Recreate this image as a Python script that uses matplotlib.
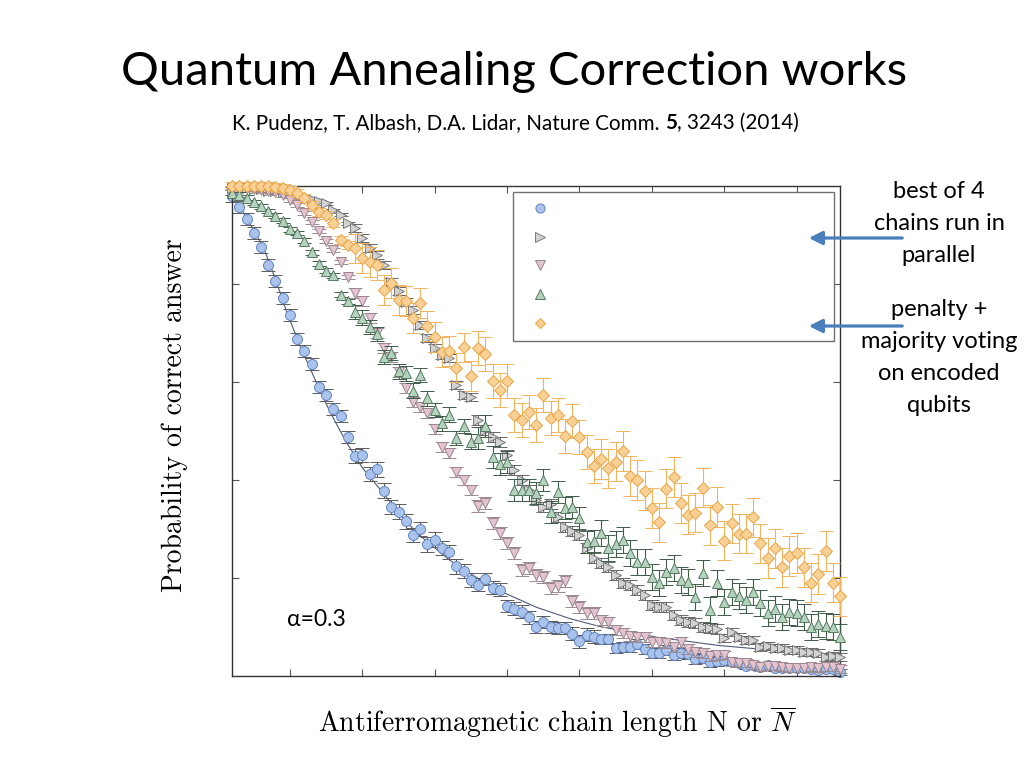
import numpy as np
import matplotlib
matplotlib.use("Agg")
import matplotlib.pyplot as plt
from matplotlib.lines import Line2D
from matplotlib.patches import FancyArrowPatch

plt.rcParams["mathtext.fontset"] = "cm"

# chain lengths N = 2 .. 86
N = np.arange(2, 87)

p_circle = [0.980, 0.957, 0.933, 0.904, 0.876, 0.839, 0.806, 0.771, 0.737, 0.688,
            0.663, 0.637, 0.590, 0.573, 0.545, 0.531, 0.488, 0.449, 0.451, 0.412,
            0.422, 0.378, 0.345, 0.335, 0.316, 0.288, 0.300, 0.269, 0.278, 0.261,
            0.253, 0.224, 0.214, 0.196, 0.186, 0.198, 0.180, 0.176, 0.143, 0.137,
            0.131, 0.120, 0.100, 0.110, 0.100, 0.098, 0.098, 0.086, 0.071, 0.084,
            0.080, 0.076, 0.076, 0.057, 0.059, 0.059, 0.065, 0.055, 0.047, 0.047,
            0.053, 0.043, 0.047, 0.045, 0.035, 0.037, 0.029, 0.031, 0.033, 0.029,
            0.027, 0.020, 0.022, 0.018, 0.022, 0.016, 0.016, 0.016, 0.016, 0.016,
            0.014, 0.012, 0.014, 0.014, 0.008]

p_right = [0.995, 0.995, 0.995, 0.993, 0.993, 0.990, 0.990, 0.988, 0.985, 0.980,
           0.977, 0.973, 0.969, 0.965, 0.951, 0.941, 0.924, 0.914, 0.894, 0.873,
           0.859, 0.839, 0.804, 0.786, 0.763, 0.747, 0.716, 0.690, 0.669, 0.655,
           0.649, 0.594, 0.573, 0.569, 0.522, 0.502, 0.488, 0.478, 0.451, 0.420,
           0.400, 0.380, 0.359, 0.345, 0.351, 0.324, 0.304, 0.296, 0.288, 0.261,
           0.241, 0.231, 0.222, 0.206, 0.190, 0.186, 0.176, 0.165, 0.145, 0.141,
           0.141, 0.124, 0.114, 0.110, 0.108, 0.100, 0.098, 0.096, 0.078, 0.090,
           0.080, 0.073, 0.073, 0.059, 0.061, 0.057, 0.057, 0.053, 0.053, 0.049,
           0.049, 0.047, 0.039, 0.041, 0.039]

p_down = [0.997, 0.996, 0.995, 0.994, 0.992, 0.990, 0.987, 0.982, 0.971, 0.961,
          0.945, 0.927, 0.908, 0.888, 0.869, 0.845, 0.814, 0.782, 0.765, 0.731,
          0.700, 0.669, 0.651, 0.620, 0.588, 0.559, 0.549, 0.537, 0.504, 0.467,
          0.455, 0.416, 0.400, 0.380, 0.347, 0.353, 0.312, 0.292, 0.271, 0.251,
          0.216, 0.220, 0.206, 0.202, 0.180, 0.184, 0.194, 0.153, 0.141, 0.129,
          0.129, 0.114, 0.110, 0.094, 0.088, 0.082, 0.080, 0.080, 0.069, 0.069,
          0.067, 0.059, 0.069, 0.055, 0.049, 0.047, 0.041, 0.043, 0.043, 0.029,
          0.027, 0.027, 0.022, 0.018, 0.020, 0.020, 0.018, 0.016, 0.016, 0.016,
          0.018, 0.016, 0.018, 0.018, 0.014]

p_up = [0.986, 0.982, 0.976, 0.967, 0.959, 0.949, 0.939, 0.929, 0.912, 0.904,
        0.888, 0.865, 0.841, 0.827, 0.818, 0.778, 0.765, 0.743, 0.731, 0.712,
        0.698, 0.651, 0.659, 0.622, 0.618, 0.582, 0.614, 0.567, 0.543, 0.516,
        0.533, 0.486, 0.510, 0.478, 0.486, 0.510, 0.447, 0.433, 0.437, 0.380,
        0.380, 0.380, 0.373, 0.400, 0.335, 0.376, 0.343, 0.345, 0.322, 0.273,
        0.276, 0.292, 0.261, 0.269, 0.278, 0.251, 0.233, 0.233, 0.202, 0.190,
        0.212, 0.220, 0.196, 0.192, 0.161, 0.210, 0.135, 0.190, 0.151, 0.171,
        0.163, 0.155, 0.171, 0.149, 0.129, 0.137, 0.120, 0.131, 0.129, 0.120,
        0.100, 0.106, 0.102, 0.100, 0.080]

p_diamond = [1.000, 1.000, 1.000, 1.000, 1.000, 1.000, 0.998, 0.996, 0.992, 0.986,
             0.976, 0.961, 0.947, 0.941, 0.924, 0.890, 0.880, 0.873, 0.853, 0.845,
             0.839, 0.788, 0.802, 0.767, 0.765, 0.731, 0.761, 0.714, 0.692, 0.661,
             0.663, 0.629, 0.671, 0.612, 0.669, 0.657, 0.602, 0.584, 0.602, 0.533,
             0.522, 0.539, 0.512, 0.573, 0.527, 0.533, 0.490, 0.520, 0.488, 0.457,
             0.429, 0.443, 0.424, 0.437, 0.459, 0.408, 0.400, 0.378, 0.343, 0.314,
             0.382, 0.406, 0.353, 0.329, 0.333, 0.384, 0.308, 0.345, 0.276, 0.312,
             0.290, 0.290, 0.324, 0.271, 0.241, 0.261, 0.222, 0.245, 0.251, 0.222,
             0.190, 0.208, 0.255, 0.190, 0.163]

# error bar half widths, one value per block of 17 chain lengths
err_circle = [0.012, 0.015, 0.013, 0.010, 0.006]
err_right = [0.003, 0.008, 0.010, 0.010, 0.008]
err_down = [0.004, 0.010, 0.012, 0.010, 0.008]
err_up = [0.005, 0.015, 0.022, 0.026, 0.026]
err_diamond = [0.008, 0.030, 0.035, 0.040, 0.040]

# fitted curve for the unencoded chains
fit_N = [2, 4, 6.3, 8, 9.6, 11.5, 13.5, 15.5, 17.6, 20, 22.9, 25, 27.6, 32.1, 36.3,
         39.4, 44.1, 48.7, 52.8, 60.7, 69.4, 78, 86]
fit_p = [0.986, 0.935, 0.876, 0.810, 0.741, 0.670, 0.604, 0.540, 0.482, 0.425, 0.373,
         0.333, 0.291, 0.236, 0.196, 0.171, 0.140, 0.117, 0.101, 0.079, 0.062, 0.051, 0.043]

fig = plt.figure(figsize=(10.24, 7.68), dpi=100)
ax = fig.add_axes([0.2266, 0.1198, 0.5938, 0.638])

ax.plot(fit_N, fit_p, color="#4d5a78", lw=0.8, zorder=1)

styles = [
    (p_circle, err_circle, "o", 7.2, "#a9c3ec", "#6384c0", "#5a5a5a"),
    (p_right, err_right, ">", 7.8, "#d2d2d2", "#7a7a7a", "#666666"),
    (p_down, err_down, "v", 7.8, "#e3c3cf", "#9a8590", "#9a8a90"),
    (p_up, err_up, "^", 7.8, "#b5d2bd", "#557a62", "#3f5c48"),
    (p_diamond, err_diamond, "D", 6.0, "#f9d197", "#e9a340", "#f1b35e"),
]

handles = []
for k, (p, e, m, ms, fc, ec, bc) in enumerate(styles):
    yerr = np.repeat(e, 17)
    ax.errorbar(N, p, yerr=yerr, fmt=m, ms=ms, mfc=fc, mec=ec, mew=0.7,
                ecolor=bc, elinewidth=0.8, capsize=5, capthick=0.8,
                zorder=2 + k, clip_on=False)
    handles.append(Line2D([], [], ls="none", marker=m, ms=ms - 0.6, mfc=fc, mec=ec, mew=0.7))

leg = ax.legend(handles, [" "] * 5, loc="upper left", mode="expand",
                bbox_to_anchor=(0.462, 0.0, 0.528, 0.988), borderaxespad=0,
                fontsize=12, handlelength=2.3, labelspacing=0.64, borderpad=0.48,
                fancybox=False, framealpha=1, edgecolor="#707070")
leg.get_frame().set_linewidth(1.0)

ax.set_xlim(2, 86)
ax.set_ylim(0, 1)
ax.set_xticks([10, 20, 30, 40, 50, 60, 70, 80])
ax.set_yticks([0.2, 0.4, 0.6, 0.8])
ax.tick_params(direction="in", length=5, width=0.8, color="#555555",
               top=True, right=True, labelbottom=False, labelleft=False)
for s in ax.spines.values():
    s.set_color("#333333")
    s.set_linewidth(1.0)

# text
fig.text(0.502, 0.906, "Quantum Annealing Correction works", ha="center",
         va="center", fontsize=33.9, family="Lato")

renderer = fig.canvas.get_renderer()
parts = [("K. Pudenz, T. Albash, D.A. Lidar, Nature Comm. ", "normal"),
         ("5", "bold"), (", 3243 (2014)", "normal")]
x0 = 232
for txt, w in parts:
    t = fig.text(x0 / 1024, 1 - 123 / 768, txt, ha="left", va="center",
                 fontsize=14.9, family="Lato", weight=w)
    bb = t.get_window_extent(renderer)
    x0 = bb.x1

fig.text(0.171, 0.4596, "Probability of correct answer", rotation=90,
         ha="center", va="center", fontsize=20, family="cmr10")
fig.text(0.545, 0.06, r"Antiferromagnetic chain length N or $\overline{N}$",
         ha="center", va="center", fontsize=20, family="cmr10")

fig.text(0.309, 0.194, "α=0.3", ha="center", va="center", fontsize=16.5, family="Lato")

fig.text(0.917, 0.709, "best of 4\nchains run in\nparallel", ha="center",
         va="center", fontsize=17, family="Lato", linespacing=1.65)
fig.text(0.917, 0.5345, "penalty +\nmajority voting\non encoded\nqubits", ha="center",
         va="center", fontsize=17, family="Lato", linespacing=1.65)

for yy in [238, 326]:
    arr = FancyArrowPatch((905 / 1024, 1 - yy / 768), (806 / 1024, 1 - yy / 768),
                          transform=fig.transFigure, arrowstyle="-|>",
                          mutation_scale=20, lw=2.3, color="#4a7ebb")
    fig.add_artist(arr)

fig.savefig("out.png", dpi=100)
